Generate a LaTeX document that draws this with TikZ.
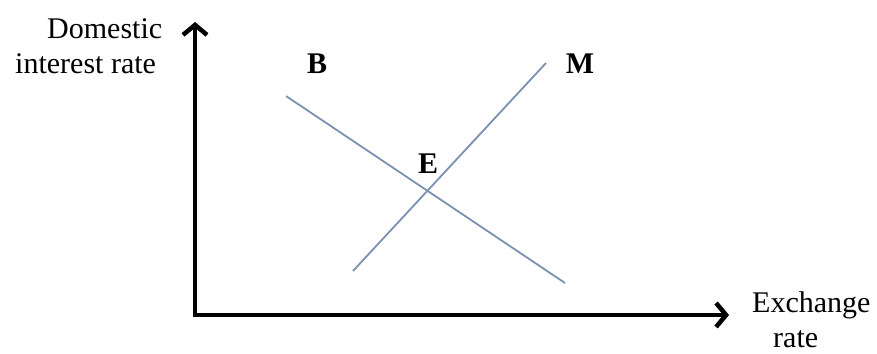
\documentclass[tikz,border=0pt]{standalone}
\usepackage{fontspec}
\setmainfont{Liberation Serif}
\usetikzlibrary{arrows.meta}
\definecolor{cLINE}{HTML}{7B91B2}
\tikzset{
  axis/.style={
    {Straight Barb[length=10pt,width=24pt]}-{Straight Barb[length=10pt,width=24pt]},
    line width=4.5pt,
    draw=black
  },
  curve/.style={
    line width=1.8pt,
    draw=cLINE
  },
  axislabel/.style={
    font=\fontsize{30}{35}\selectfont,
    align=left,
    inner sep=0pt,
    anchor=base west
  },
  pointlabel/.style={
    font=\fontsize{30}{36}\selectfont\bfseries,
    inner sep=0pt,
    anchor=base
  }
}

\begin{document}
\begin{tikzpicture}[x=1pt, y=-1pt]
  \useasboundingbox (0,0) rectangle (877,353);

  % axes
  \coordinate (origin) at (195,315);
  \coordinate (ytip) at (195,22);
  \coordinate (xtip) at (729,315);
  \draw[axis] (ytip) -- (origin) -- (xtip);

  \node[axislabel] (ylab) at (15,74) {\hspace*{32pt}Domestic\\interest rate};
  \node[axislabel] (xlab) at (752,347) {Exchange\\\hspace*{21pt}rate};

  % curves
  \coordinate (b0) at (286,96);
  \coordinate (b1) at (565,283);
  \coordinate (m0) at (353,271);
  \coordinate (m1) at (546,63);
  \draw[curve] (b0) -- (b1);
  \draw[curve] (m0) -- (m1);

  \node[pointlabel] (B) at (317,73) {B};
  \node[pointlabel] (M) at (580,73) {M};
  \node[pointlabel] (E) at (428,173) {E};
\end{tikzpicture}
\end{document}
